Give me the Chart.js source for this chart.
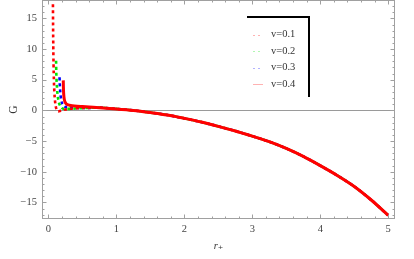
<!DOCTYPE html>
<html>
<head>
<meta charset="utf-8">
<script src="https://cdn.jsdelivr.net/npm/chart.js@4.4.1/dist/chart.umd.min.js"></script>
<style>
  html, body { margin: 0; padding: 0; background: #fff; }
  #wrap { width: 414px; height: 259px; }
</style>
</head>
<body>
<div id="wrap"><canvas id="gChart" width="414" height="259"></canvas></div>
<script>
// series names + colours
const seriesLabels = ["v=0.1", "v=0.2", "v=0.3", "v=0.4"];
const seriesColors = ["#ff0000", "#00e600", "#0000ff", "#ff0000"];

// small-r branch of each curve
const r01 = [0.066, 0.068, 0.071, 0.075, 0.08, 0.087, 0.097, 0.11, 0.125, 0.145, 0.18, 0.25, 0.4, 0.6];
const g01 = [17.3, 14, 10.5, 7.5, 5, 3, 1.5, 0.5, 0, -0.15, -0.05, 0.15, 0.35, 0.42];

const r02 = [0.112, 0.115, 0.12, 0.127, 0.135, 0.147, 0.165, 0.19, 0.23, 0.3, 0.45, 0.6];
const g02 = [8.1, 6.3, 4.8, 3.5, 2.5, 1.6, 0.9, 0.45, 0.25, 0.25, 0.35, 0.42];

const r03 = [0.163, 0.166, 0.171, 0.178, 0.187, 0.2, 0.22, 0.25, 0.3, 0.4, 0.6];
const g03 = [5.4, 4.4, 3.4, 2.5, 1.8, 1.2, 0.8, 0.55, 0.45, 0.42, 0.42];

const r04 = [0.218, 0.22, 0.223, 0.228, 0.235, 0.245, 0.26, 0.28, 0.31, 0.35, 0.42, 0.5, 0.6];
const g04 = [4.9, 3.8, 2.9, 2.2, 1.7, 1.35, 1.1, 0.95, 0.85, 0.77, 0.68, 0.62, 0.55];

// all four curves coincide for larger r
const rTail = [0.75, 1.0, 1.25, 1.5, 1.75, 2.0, 2.25, 2.5, 2.75, 3.0, 3.25, 3.5, 3.75, 4.0, 4.25, 4.5, 4.75, 5.0];
const gTail = [0.45, 0.25, 0.0, -0.35, -0.75, -1.3, -1.9, -2.6, -3.35, -4.2, -5.1, -6.2, -7.5, -9.0, -10.6, -12.4, -14.6, -17.1];

const xTickValues = [0, 1, 2, 3, 4, 5];
const yTickValues = [-15, -10, -5, 0, 5, 10, 15];

function toPoints(rs, gs) {
  return rs.concat(rTail).map((r, i) => ({ x: r, y: gs.concat(gTail)[i] }));
}

const serif = "'Liberation Serif', 'DejaVu Serif', serif";

const framePlugin = {
  id: "frame",
  afterDraw(chart) {
    const { ctx, chartArea: a, scales } = chart;
    const x = scales.x, y = scales.y;
    ctx.save();
    ctx.strokeStyle = "#a0a0a0";
    ctx.lineWidth = 1;
    ctx.strokeRect(a.left + 0.5, a.top + 0.5, a.right - a.left - 1, a.bottom - a.top - 1);
    ctx.beginPath();
    for (let k = 0; k <= 25; k++) {
      const v = k * 0.2;
      const px = Math.round(x.getPixelForValue(v)) + 0.5;
      const len = k % 5 === 0 ? 4.5 : 2.5;
      ctx.moveTo(px, a.bottom); ctx.lineTo(px, a.bottom - len);
      ctx.moveTo(px, a.top); ctx.lineTo(px, a.top + len);
    }
    for (let v = -17; v <= 17; v++) {
      const py = Math.round(y.getPixelForValue(v)) + 0.5;
      const len = v % 5 === 0 ? 4.5 : 2.5;
      ctx.moveTo(a.left, py); ctx.lineTo(a.left + len, py);
      ctx.moveTo(a.right, py); ctx.lineTo(a.right - len, py);
    }
    ctx.stroke();
    ctx.restore();
  }
};

const legendPlugin = {
  id: "boxLegend",
  afterDraw(chart) {
    const ctx = chart.ctx;
    ctx.save();
    // legend frame (top and right edges only)
    ctx.strokeStyle = "#000";
    ctx.lineWidth = 2;
    ctx.beginPath();
    ctx.moveTo(247, 17);
    ctx.lineTo(309, 17);
    ctx.lineTo(309, 97);
    ctx.stroke();
    chart.data.datasets.forEach((ds, i) => {
      const yy = 34.5 + i * 16.6;
      ctx.globalAlpha = 0.3;
      ctx.strokeStyle = ds.borderColor;
      ctx.lineWidth = 1;
      ctx.setLineDash(ds.borderDash && ds.borderDash.length ? [2, 3] : []);
      ctx.beginPath();
      ctx.moveTo(253, Math.round(yy) + 0.5);
      ctx.lineTo(263, Math.round(yy) + 0.5);
      ctx.stroke();
      ctx.setLineDash([]);
      ctx.globalAlpha = 1;
      ctx.fillStyle = "#333";
      ctx.font = "10.5px " + serif;
      ctx.textBaseline = "middle";
      ctx.fillText(ds.label, 271, yy);
    });
    ctx.restore();
  }
};

const datasets = [
  { label: seriesLabels[0], data: toPoints(r01, g01), borderColor: seriesColors[0], borderWidth: 2.6, borderDash: [3, 3], order: 1 },
  { label: seriesLabels[1], data: toPoints(r02, g02), borderColor: seriesColors[1], borderWidth: 2.6, borderDash: [3, 3], order: 2 },
  { label: seriesLabels[2], data: toPoints(r03, g03), borderColor: seriesColors[2], borderWidth: 2.6, borderDash: [3, 3], order: 3 },
  { label: seriesLabels[3], data: toPoints(r04, g04), borderColor: seriesColors[3], borderWidth: 3, borderDash: [], order: 0 }
];

new Chart(document.getElementById("gChart").getContext("2d"), {
  type: "line",
  data: { datasets: datasets },
  options: {
    responsive: false,
    animation: false,
    events: [],
    layout: { padding: { left: 0, right: 19, top: 0, bottom: 0 } },
    elements: {
      point: { radius: 0 },
      line: { cubicInterpolationMode: "monotone", fill: false }
    },
    plugins: { legend: { display: false }, tooltip: { enabled: false } },
    scales: {
      x: {
        type: "linear",
        min: -0.095,
        max: 5.1,
        afterBuildTicks: s => { s.ticks = xTickValues.map(v => ({ value: v })); },
        afterFit: s => { s.height = 40; s.paddingLeft = 0; s.paddingRight = 0; },
        grid: { display: false, drawTicks: false },
        border: { display: false },
        ticks: { padding: 4, color: "#444", font: { family: serif, size: 10.5 }, maxRotation: 0 },
        title: { display: true, text: "r\u208A", color: "#333", font: { family: serif, size: 10.5, style: "italic" }, padding: { top: 0, bottom: 6 } }
      },
      y: {
        type: "linear",
        min: -17.7,
        max: 18,
        afterBuildTicks: s => { s.ticks = yTickValues.map(v => ({ value: v })); },
        afterFit: s => { s.width = 42; s.paddingTop = 0; s.paddingBottom = 0; },
        grid: {
          drawTicks: false,
          color: c => (c.tick && c.tick.value === 0 ? "#9a9a9a" : "rgba(0,0,0,0)"),
          lineWidth: 1
        },
        border: { display: false },
        ticks: {
          padding: 5,
          color: "#444",
          font: { family: serif, size: 10.5 },
          callback: v => String(v).replace("-", "\u2212")
        },
        title: { display: true, text: "G", color: "#333", font: { family: serif, size: 11.5 }, padding: { top: 7, bottom: 0 } }
      }
    }
  },
  plugins: [framePlugin, legendPlugin]
});
</script>
</body>
</html>
